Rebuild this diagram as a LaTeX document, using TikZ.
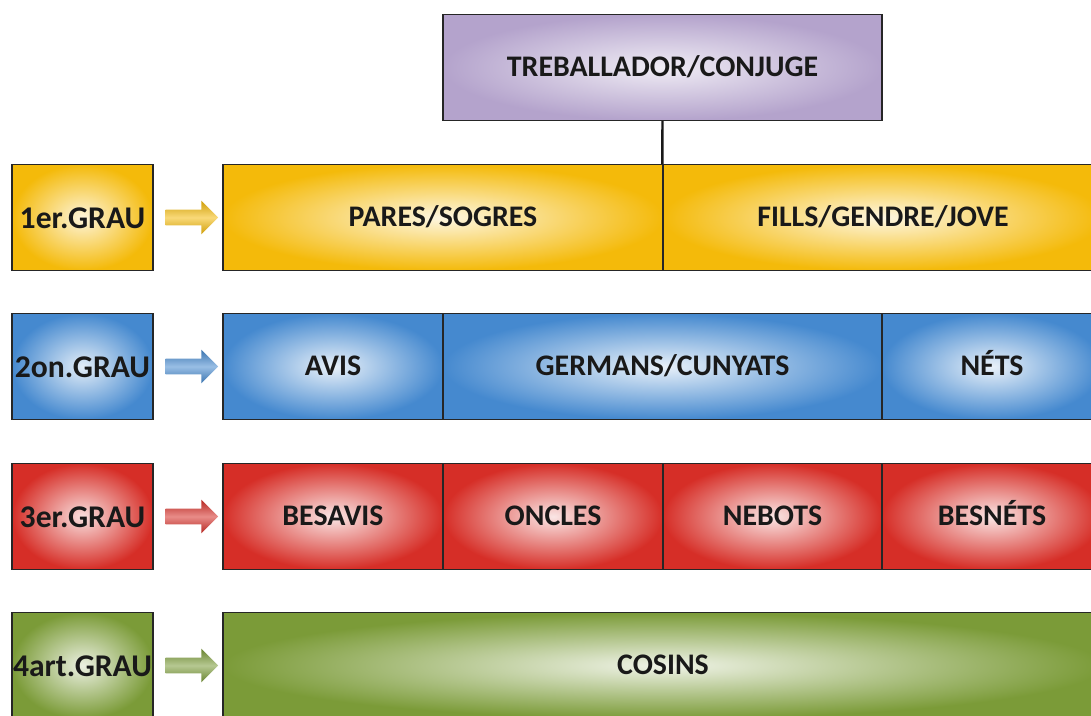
\documentclass[tikz,border=0pt]{standalone}
\usepackage{fontspec}
\setmainfont{Carlito}
\usetikzlibrary{shapes.arrows,calc}

\definecolor{groc}{HTML}{F4BA0A}
\definecolor{blau}{HTML}{4589CF}
\definecolor{vermell}{HTML}{D62E27}
\definecolor{verd}{HTML}{7B9B38}
\definecolor{lila}{HTML}{B4A3CC}

\begin{document}
\begin{tikzpicture}[
	x=0.02cm, y=-0.02cm,
	caixa/.style={
		rectangle,
		draw=black!85,
		line width=0.8pt,
		align=center,
		font=\bfseries\fontsize{17}{20}\selectfont,
		text=black!90,
		inner sep=0pt,
		text height=12pt,
		text depth=2pt,
		minimum height=2.12cm
	},
	grau/.style={
		caixa,
		font=\bfseries\fontsize{18}{21}\selectfont,
		text height=13pt,
		text depth=1pt,
		minimum width=2.82cm,
		inner color=#1!15,
		outer color=#1
	},
	bloc/.style={
		caixa,
		inner color=#1!12,
		outer color=#1
	},
	fletxa/.style={
		single arrow,
		draw=none,
		minimum height=1.05cm,
		inner xsep=0pt,
		inner ysep=0.15cm,
		single arrow head extend=0.18cm,
		top color=#1!85!black,
		bottom color=#1!85!black,
		middle color=#1!55
	},
]

\useasboundingbox[fill=white] (0,0) rectangle (1091,716);

\node[caixa, minimum width=8.78cm, inner color=lila!20, outer color=lila] (treb) at (662.5,67.5) {TREBALLADOR/CONJUGE};

% graus
\node[grau=groc] (g1) at (82.5,217.5) {1er.GRAU};
\node[grau=blau] (g2) at (82.5,366.5) {2on.GRAU};
\node[grau=vermell] (g3) at (82.5,516.5) {3er.GRAU};
\node[grau=verd] (g4) at (82.5,665.5) {4art.GRAU};

% primer grau
\node[bloc=groc, minimum width=8.8cm] (pares) at (443,217.5) {PARES/SOGRES};
\node[bloc=groc, minimum width=8.8cm] (fills) at (883,217.5) {FILLS/GENDRE/JOVE};

% segon grau
\node[bloc=blau, minimum width=4.4cm] (avis) at (333,366.5) {AVIS};
\node[bloc=blau, minimum width=8.78cm] (germans) at (662.5,366.5) {GERMANS/CUNYATS};
\node[bloc=blau, minimum width=4.4cm] (nets) at (992,366.5) {NÉTS};

% tercer grau
\node[bloc=vermell, minimum width=4.4cm] (besavis) at (333,516.5) {BESAVIS};
\node[bloc=vermell, minimum width=4.38cm] (oncles) at (553,516.5) {ONCLES};
\node[bloc=vermell, minimum width=4.38cm] (nebots) at (772.5,516.5) {NEBOTS};
\node[bloc=vermell, minimum width=4.4cm] (besnets) at (992,516.5) {BESNÉTS};

% quart grau
\node[bloc=verd, minimum width=17.6cm] (cosins) at (663,665.5) {COSINS};

\draw[line width=1.4pt, black!90] (treb.south) -- (fills.north west);

\node[fletxa=groc] (f1) at ($(g1.east)!0.5!(pares.west)$) {};
\node[fletxa=blau] (f2) at ($(g2.east)!0.5!(avis.west)$) {};
\node[fletxa=vermell] (f3) at ($(g3.east)!0.5!(besavis.west)$) {};
\node[fletxa=verd] (f4) at ($(g4.east)!0.5!(cosins.west)$) {};

\end{tikzpicture}
\end{document}
